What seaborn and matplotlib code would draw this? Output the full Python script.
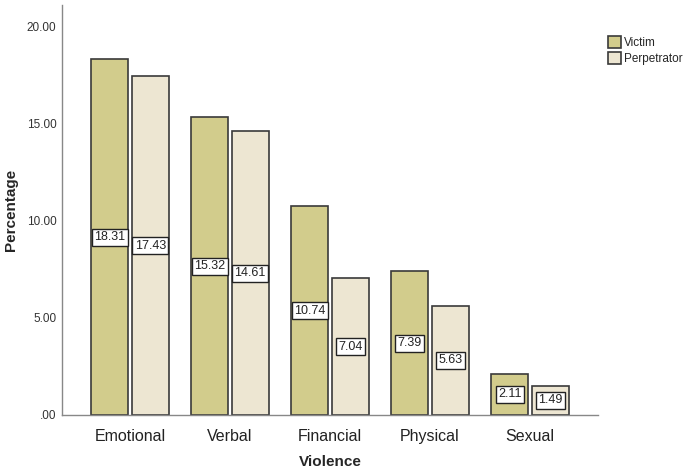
import pandas as pd
import matplotlib.pyplot as plt
import seaborn as sns
from matplotlib.ticker import FuncFormatter

categories = ['Emotional', 'Verbal', 'Financial', 'Physical', 'Sexual']
victim = [18.31, 15.32, 10.74, 7.39, 2.11]
perpetrator = [17.43, 14.61, 7.04, 5.63, 1.49]

df = pd.DataFrame({
    'Violence': categories * 2,
    'Percentage': victim + perpetrator,
    'Role': ['Victim'] * len(categories) + ['Perpetrator'] * len(categories),
})

sns.set_style('white')
plt.rcParams['font.family'] = ['Arial', 'Liberation Sans', 'DejaVu Sans']

fig = plt.figure(figsize=(6.85, 4.72), dpi=100)
ax = fig.add_axes([0.0905, 0.121, 0.7825, 0.868])

palette = {'Victim': '#d2cc8c', 'Perpetrator': '#ede6d2'}
sns.barplot(data=df, x='Violence', y='Percentage', hue='Role', palette=palette,
            width=0.81, gap=0.08, edgecolor='#3a3a3a', linewidth=1.2,
            saturation=1, ax=ax)

# value labels in the middle of each bar
for container in ax.containers:
    for bar in container:
        h = bar.get_height()
        ax.text(bar.get_x() + bar.get_width() / 2, h / 2, f'{h:.2f}',
                ha='center', va='center', fontsize=9, color='#222222',
                bbox=dict(boxstyle='square,pad=0.2', fc='white', ec='#222222', lw=1))

ax.set_xlim(-0.68, 4.68)
ax.set_ylim(0, 21.1)
ax.set_yticks([0, 5, 10, 15, 20])
ax.yaxis.set_major_formatter(FuncFormatter(lambda v, p: '.00' if v == 0 else f'{v:.2f}'))
ax.tick_params(axis='y', labelsize=8.5, colors='#333333', length=0, pad=4)
ax.tick_params(axis='x', labelsize=11.5, colors='#222222', length=0, pad=10)
ax.set_xlabel('Violence', fontsize=11, fontweight='bold', labelpad=8)
ax.set_ylabel('Percentage', fontsize=11, fontweight='bold', labelpad=6)

for s in ['top', 'right']:
    ax.spines[s].set_visible(False)
for s in ['left', 'bottom']:
    ax.spines[s].set_color('#888888')
    ax.spines[s].set_linewidth(1)

ax.legend(title=None, loc='upper left', bbox_to_anchor=(0.998, 0.95), frameon=False,
          fontsize=8.5, handlelength=1.1, handleheight=1.2, handletextpad=0.3,
          labelspacing=0.25, borderaxespad=0.5)

plt.savefig('out.png', dpi=100)
